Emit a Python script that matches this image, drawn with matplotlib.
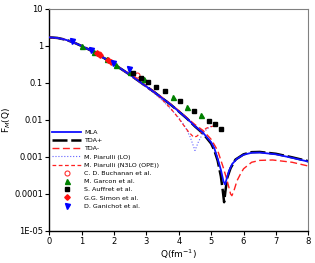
import numpy as np
import matplotlib
matplotlib.use("Agg")
import matplotlib.pyplot as plt
from matplotlib.ticker import FixedLocator, FixedFormatter, NullLocator

# --- theory curves (Q in fm^-1, F_M(Q)) ---
q_mla = [0, 0.25, 0.5, 0.75, 1.0, 1.25, 1.5, 1.75, 2.0, 2.25, 2.5, 2.75, 3.0,
         3.25, 3.5, 3.75, 4.0, 4.25, 4.5, 4.75, 5.0, 5.1, 5.2, 5.3, 5.38,
         5.43, 5.48, 5.55, 5.65, 5.8, 6.0, 6.25, 6.5, 7.0, 7.5, 8.0]
f_mla = [1.71, 1.65, 1.48, 1.25, 1.0, 0.78, 0.59, 0.44, 0.32, 0.23, 0.165,
         0.115, 0.08, 0.056, 0.038, 0.026, 0.017, 0.011, 0.0068, 0.0045,
         0.0025, 0.0017, 0.0009, 0.00045, 0.00022, 0.00018, 0.00026, 0.00042,
         0.00065, 0.0009, 0.00115, 0.0013, 0.00132, 0.00118, 0.00095, 0.00075]

q_tdap = [0, 0.25, 0.5, 0.75, 1.0, 1.25, 1.5, 1.75, 2.0, 2.25, 2.5, 2.75, 3.0,
          3.25, 3.5, 3.75, 4.0, 4.25, 4.5, 4.75, 5.0, 5.1, 5.2, 5.3, 5.36,
          5.4, 5.44, 5.5, 5.6, 5.75, 6.0, 6.25, 6.5, 7.0, 7.5, 8.0]
f_tdap = [1.71, 1.65, 1.48, 1.25, 1.0, 0.78, 0.59, 0.44, 0.32, 0.23, 0.165,
          0.115, 0.08, 0.056, 0.038, 0.026, 0.017, 0.011, 0.0067, 0.0043,
          0.0023, 0.0015, 0.0008, 0.0003, 0.00012, 0.00006, 0.00012, 0.00028,
          0.0005, 0.00085, 0.00118, 0.00135, 0.00137, 0.00122, 0.00098, 0.00077]

q_tdam = [0, 0.25, 0.5, 0.75, 1.0, 1.25, 1.5, 1.75, 2.0, 2.25, 2.5, 2.75, 3.0,
          3.25, 3.5, 3.75, 4.0, 4.25, 4.5, 4.75, 5.0, 5.2, 5.38, 5.5, 5.6,
          5.64, 5.7, 5.8, 5.9, 6.0, 6.25, 6.5, 6.9, 7.5, 8.0]
f_tdam = [1.71, 1.65, 1.48, 1.25, 1.0, 0.78, 0.6, 0.45, 0.33, 0.235, 0.17,
          0.12, 0.083, 0.058, 0.04, 0.027, 0.018, 0.0115, 0.0075, 0.0052,
          0.003, 0.0015, 0.0005, 0.00022, 0.0001, 0.00009, 0.00012, 0.00023,
          0.00034, 0.00048, 0.00072, 0.00081, 0.00083, 0.00072, 0.00057]

q_lo = [0, 0.25, 0.5, 0.75, 1.0, 1.25, 1.5, 1.75, 2.0, 2.25, 2.5, 2.75, 3.0,
        3.25, 3.5, 3.75, 4.0, 4.2, 4.35, 4.5, 4.6, 4.75, 4.9, 5.0]
f_lo = [1.71, 1.65, 1.48, 1.25, 1.0, 0.78, 0.59, 0.44, 0.32, 0.225, 0.16,
        0.11, 0.076, 0.052, 0.033, 0.02, 0.0115, 0.0065, 0.0035, 0.0015,
        0.0025, 0.0045, 0.006, 0.0068]

q_n3lo = [0, 0.25, 0.5, 0.75, 1.0, 1.25, 1.5, 1.75, 2.0, 2.25, 2.5, 2.75, 3.0,
          3.25, 3.5, 3.75, 4.0, 4.15, 4.3, 4.45, 4.55, 4.7, 4.85, 5.05]
f_n3lo = [1.71, 1.65, 1.48, 1.25, 1.0, 0.78, 0.59, 0.44, 0.32, 0.225, 0.16,
          0.112, 0.078, 0.054, 0.035, 0.0205, 0.011, 0.0072, 0.0048, 0.0035,
          0.0036, 0.0047, 0.006, 0.0068]

# --- experimental data ---
q_buchanan = [1.55, 2.72]
f_buchanan = [0.6, 0.16]
q_garcon = [1.0, 1.37, 1.77, 2.06, 2.5, 2.93, 3.81, 4.26, 4.68]
f_garcon = [0.98, 0.67, 0.44, 0.31, 0.2, 0.126, 0.041, 0.023, 0.0135]
q_auffret = [2.6, 2.83, 3.05, 3.31, 3.56, 4.04, 4.47, 4.92, 5.13, 5.31]
f_auffret = [0.185, 0.14, 0.108, 0.078, 0.06, 0.033, 0.0175, 0.0093, 0.0078, 0.0056]
q_simon = [1.47, 1.56, 1.8, 1.9]
f_simon = [0.63, 0.58, 0.43, 0.38]
q_ganichot = [0.7, 1.29, 1.98, 2.45]
f_ganichot = [1.34, 0.77, 0.35, 0.235]

ytick_vals = [1e-5, 1e-4, 1e-3, 1e-2, 1e-1, 1, 10]
ytick_labels = ["1E-05", "0.0001", "0.001", "0.01", "0.1", "1", "10"]

fig = plt.figure(figsize=(3.15, 2.63), dpi=100)
ax = fig.add_axes([0.1565, 0.1217, 0.8222, 0.8441])

ax.plot(q_mla, f_mla, color="#1010ff", lw=1.3, label="MLA", zorder=4)
ax.plot(q_tdap, f_tdap, color="black", lw=1.8, ls=(0, (6, 1.5)), label="TDA+", zorder=3)
ax.plot(q_tdam, f_tdam, color="#ff2020", lw=1.0, ls=(0, (5, 2.5)), label="TDA-", zorder=3)
ax.plot(q_lo, f_lo, color="#6060ff", lw=0.8, ls=":", label="M. Piarulli (LO)", zorder=3)
ax.plot(q_n3lo, f_n3lo, color="#ff2020", lw=0.9, ls=(0, (3, 2)),
        label="M. Piarulli (N3LO (OPE))", zorder=3)

ms = 3.6
ax.plot(q_buchanan, f_buchanan, "o", mfc="none", mec="#ff3030", mew=0.8, ms=ms,
        label="C. D. Buchanan et al.", zorder=5)
ax.plot(q_garcon, f_garcon, "^", color="#008000", ms=ms, label="M. Garcon et al.", zorder=5)
ax.plot(q_auffret, f_auffret, "s", color="black", ms=ms - 0.6, label="S. Auffret et al.", zorder=5)
ax.plot(q_simon, f_simon, "D", color="#ff1010", ms=ms - 0.8, label="G.G. Simon et al.", zorder=5)
ax.plot(q_ganichot, f_ganichot, "v", color="#0000ff", ms=ms, label="D. Ganichot et al.", zorder=5)

ax.set_yscale("log")
ax.set_xlim(0, 8)
ax.set_ylim(1e-5, 10)
ax.yaxis.set_major_locator(FixedLocator(ytick_vals))
ax.yaxis.set_major_formatter(FixedFormatter(ytick_labels))
ax.yaxis.set_minor_locator(NullLocator())
ax.set_xticks(range(0, 9))
ax.tick_params(labelsize=6, length=3, width=0.8, pad=1.5, direction="out")

for side in ("top", "right"):
    ax.spines[side].set_color("#808080")
for side in ("left", "bottom"):
    ax.spines[side].set_linewidth(1.0)

ax.set_xlabel("Q(fm$^{-1}$)", fontsize=6.5, labelpad=1)
ax.set_ylabel("F$_M$(Q)", fontsize=6.5, labelpad=0.5)

ax.legend(loc="lower left", bbox_to_anchor=(0.0, 0.085), frameon=False,
          fontsize=4.6, handlelength=4.4, handletextpad=0.6,
          labelspacing=0.43, borderaxespad=0.0, borderpad=0.5)

fig.savefig("out.png", dpi=100)
